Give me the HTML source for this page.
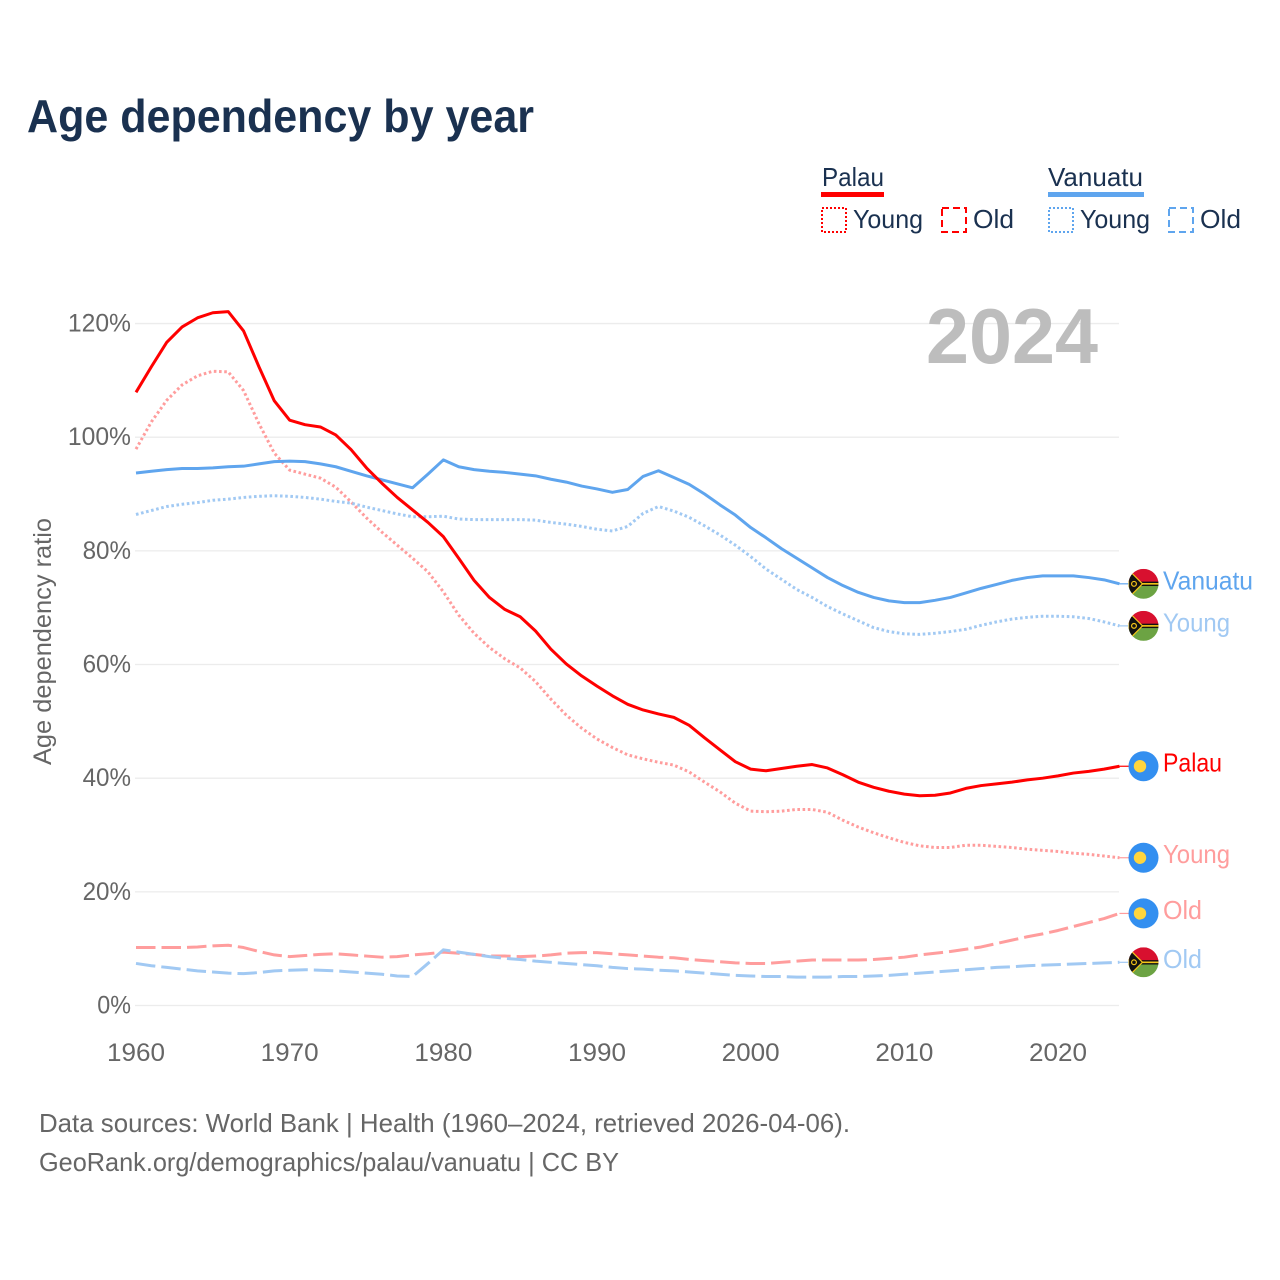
<!DOCTYPE html>
<html lang="en">
<head>
<meta charset="utf-8">
<title>Age dependency by year</title>
<style>
html,body{margin:0;padding:0;background:#fff}
svg{display:block}
text{font-family:"Liberation Sans",sans-serif}
</style>
</head>
<body>
<svg id="chart" xmlns="http://www.w3.org/2000/svg" width="1280" height="1280" viewBox="0 0 1280 1280">
<rect width="1280" height="1280" fill="#fff"/>
<text x="27" y="132" font-size="46" font-weight="700" fill="#1a3150" textLength="507" lengthAdjust="spacingAndGlyphs">Age dependency by year</text>

<g font-size="26" fill="#1a3150">
<text x="822" y="186" textLength="62" lengthAdjust="spacingAndGlyphs">Palau</text>
<rect x="821" y="192" width="63" height="5" fill="#ff0000"/>
<rect x="822" y="208" width="24" height="24" fill="none" stroke="#ff0000" stroke-width="2" stroke-dasharray="2 2"/>
<text x="853" y="228" textLength="70" lengthAdjust="spacingAndGlyphs">Young</text>
<rect x="942" y="208" width="24" height="24" fill="none" stroke="#ff0000" stroke-width="2" stroke-dasharray="7 4"/>
<text x="973" y="228" textLength="41" lengthAdjust="spacingAndGlyphs">Old</text>
<text x="1048" y="186" textLength="95" lengthAdjust="spacingAndGlyphs">Vanuatu</text>
<rect x="1048" y="192" width="96" height="5" fill="#5fa5ee"/>
<rect x="1049" y="208" width="24" height="24" fill="none" stroke="#5fa5ee" stroke-width="2" stroke-dasharray="2 2"/>
<text x="1080" y="228" textLength="70" lengthAdjust="spacingAndGlyphs">Young</text>
<rect x="1169" y="208" width="24" height="24" fill="none" stroke="#5fa5ee" stroke-width="2" stroke-dasharray="7 4"/>
<text x="1200" y="228" textLength="41" lengthAdjust="spacingAndGlyphs">Old</text>
</g>

<g id="grid"></g>
<text x="926" y="363" font-size="78" font-weight="700" fill="#bdbdbd" textLength="172" lengthAdjust="spacingAndGlyphs">2024</text>
<g id="ylabels"></g>
<g id="xlabels"></g>
<text transform="translate(51,641.5) rotate(-90)" text-anchor="middle" font-size="25" fill="#666" textLength="247" lengthAdjust="spacingAndGlyphs">Age dependency ratio</text>
<g id="series"></g>
<g id="ends"></g>

<text x="39" y="1132" font-size="26" fill="#666" textLength="811" lengthAdjust="spacingAndGlyphs">Data sources: World Bank | Health (1960–2024, retrieved 2026-04-06).</text>
<a><text x="39" y="1171" font-size="26" fill="#666" textLength="580" lengthAdjust="spacingAndGlyphs">GeoRank.org/demographics/palau/vanuatu | CC BY</text></a>
</svg>

<script>
const startYear = 1960;
const xTicks = [1960, 1970, 1980, 1990, 2000, 2010, 2020];
const yTicks = [0, 20, 40, 60, 80, 100, 120];

const palauTotal = [107.9,112.4,116.7,119.4,121.0,121.9,122.1,118.7,112.4,106.4,103.0,102.2,101.8,100.4,97.8,94.6,91.9,89.4,87.2,85.0,82.5,78.7,74.8,71.8,69.7,68.4,65.9,62.7,60.1,58.0,56.2,54.5,53.0,52.0,51.3,50.7,49.3,47.1,45.0,42.9,41.6,41.3,41.7,42.1,42.4,41.8,40.6,39.3,38.4,37.7,37.2,36.9,37.0,37.4,38.2,38.7,39.0,39.3,39.7,40.0,40.4,40.9,41.2,41.6,42.1];
const palauYoung = [97.9,102.7,106.5,109.2,110.8,111.6,111.5,108.2,102.4,97.2,94.2,93.5,92.8,91.2,88.6,85.8,83.3,81.0,78.7,76.3,72.8,68.7,65.5,63.0,61.0,59.4,57.0,53.9,51.1,48.8,46.9,45.4,44.1,43.4,42.8,42.3,41.1,39.3,37.6,35.6,34.2,34.1,34.2,34.5,34.5,34.0,32.6,31.4,30.4,29.5,28.7,28.1,27.8,27.8,28.2,28.2,28.0,27.8,27.5,27.3,27.1,26.8,26.6,26.3,26.0];
const palauOld = [10.2,10.2,10.2,10.2,10.3,10.5,10.6,10.2,9.5,8.9,8.6,8.8,9.0,9.1,8.9,8.7,8.5,8.6,8.9,9.1,9.4,9.2,9.0,8.7,8.7,8.6,8.7,8.9,9.2,9.3,9.3,9.1,8.9,8.7,8.5,8.4,8.1,7.9,7.7,7.5,7.4,7.4,7.6,7.8,8.0,8.0,8.0,8.0,8.1,8.3,8.5,8.9,9.2,9.5,9.9,10.3,10.9,11.5,12.1,12.6,13.2,13.9,14.6,15.3,16.2];
const vanuatuTotal = [93.7,94.0,94.3,94.5,94.5,94.6,94.8,94.9,95.3,95.7,95.8,95.7,95.3,94.8,94.0,93.2,92.5,91.8,91.1,93.5,96.0,94.8,94.3,94.0,93.8,93.5,93.2,92.6,92.1,91.4,90.9,90.3,90.8,93.1,94.1,92.9,91.7,90.0,88.1,86.3,84.1,82.3,80.4,78.7,77.0,75.3,73.9,72.7,71.8,71.2,70.9,70.9,71.3,71.8,72.6,73.4,74.1,74.8,75.3,75.6,75.6,75.6,75.3,74.9,74.2];
const vanuatuYoung = [86.4,87.1,87.8,88.2,88.5,88.9,89.1,89.4,89.6,89.7,89.6,89.4,89.1,88.7,88.4,87.7,87.1,86.5,86.0,86.0,86.1,85.6,85.5,85.5,85.5,85.5,85.4,85.0,84.7,84.3,83.8,83.5,84.3,86.6,87.8,87.0,85.9,84.4,82.8,81.0,79.0,76.8,75.0,73.2,71.8,70.2,68.9,67.7,66.5,65.8,65.4,65.3,65.5,65.8,66.2,66.9,67.5,68.0,68.3,68.5,68.5,68.4,68.1,67.5,66.8];
const vanuatuOld = [7.4,7.0,6.7,6.4,6.1,5.9,5.7,5.6,5.8,6.1,6.2,6.3,6.2,6.1,5.9,5.7,5.5,5.2,5.1,7.4,9.8,9.4,9.0,8.6,8.3,8.1,7.8,7.6,7.4,7.2,7.0,6.7,6.5,6.4,6.2,6.1,5.9,5.7,5.5,5.3,5.2,5.1,5.1,5.0,5.0,5.0,5.1,5.1,5.2,5.3,5.5,5.7,5.9,6.1,6.3,6.5,6.7,6.8,7.0,7.1,7.2,7.3,7.4,7.5,7.6];

const seriesNames = ['palau-old','vanuatu-old','palau-young','vanuatu-young','vanuatu-total','palau-total'];
const seriesValues = [palauOld, vanuatuOld, palauYoung, vanuatuYoung, vanuatuTotal, palauTotal];
const seriesColors = ['#ff9d9d','#a1c9f3','#ff9d9d','#a1c9f3','#5fa5ee','#ff0000'];
const seriesKinds = ['dash','dash','dot','dot','solid','solid'];
const seriesCountries = ['palau','vanuatu','palau','vanuatu','vanuatu','palau'];
const seriesLabels = ['Old','Old','Young','Young','Vanuatu','Palau'];

const NS = 'http://www.w3.org/2000/svg';
const xScale = year => 136 + (year - startYear) * 15.3667;
const yScale = value => 1005.5 - value * 5.683;
const labelWidths = {Old: 39, Young: 67, Vanuatu: 90, Palau: 59};

function make(tag, attrs, parent) {
  const el = document.createElementNS(NS, tag);
  for (const k in attrs) el.setAttribute(k, attrs[k]);
  parent.appendChild(el);
  return el;
}

const gridG = document.getElementById('grid');
const yG = document.getElementById('ylabels');
yTicks.forEach(t => {
  const line = make('line', {x1: 135, x2: 1119, y1: yScale(t), y2: yScale(t), stroke: '#ececec', 'stroke-width': 1.3}, gridG);
  
  
  const label = make('text', {x: 131, y: yScale(t) + 8, 'text-anchor': 'end', 'font-size': 25, fill: '#666', textLength: String(t).length * 14.7 + 19, lengthAdjust: 'spacingAndGlyphs'}, yG);
  
  
  label.textContent = t + '%';
});

const xG = document.getElementById('xlabels');
xTicks.forEach(t => {
  const label = make('text', {x: xScale(t), y: 1061, 'text-anchor': 'middle', 'font-size': 25, fill: '#666', textLength: 58, lengthAdjust: 'spacingAndGlyphs'}, xG);
  
  
  label.textContent = t;
});

const seriesG = document.getElementById('series');
const endsG = document.getElementById('ends');
const dashes = {solid: 'none', dot: '2.6 2.6', dash: '19.5 6'};

function drawVanuatuFlag(g, cx, cy, id) {
  const clip = make('clipPath', {id: id}, g);
  make('circle', {cx: cx, cy: cy, r: 15}, clip);
  const f = make('g', {'clip-path': 'url(#' + id + ')'}, g);
  make('rect', {x: cx - 15, y: cy - 15, width: 30, height: 15, fill: '#d8102f'}, f);
  make('rect', {x: cx - 15, y: cy, width: 30, height: 15, fill: '#6ca343'}, f);
  make('rect', {x: cx - 15, y: cy - 2.2, width: 30, height: 4.4, fill: '#111'}, f);
  make('rect', {x: cx - 5, y: cy - 0.8, width: 20, height: 1.6, fill: '#f5c518'}, f);
  make('path', {d: 'M' + (cx - 15) + ' ' + (cy - 14) + 'L' + (cx - 1) + ' ' + cy + 'L' + (cx - 15) + ' ' + (cy + 14) + 'Z', fill: '#111', stroke: '#f5c518', 'stroke-width': 1.2}, f);
  make('circle', {cx: cx - 9.5, cy: cy, r: 2.4, fill: 'none', stroke: '#f5c518', 'stroke-width': 1.2}, f);
}

function drawPalauFlag(g, cx, cy) {
  make('circle', {cx: cx, cy: cy, r: 15, fill: '#338ff0'}, g);
  make('circle', {cx: cx - 3.5, cy: cy, r: 6.2, fill: '#ffd53d'}, g);
}

seriesValues.forEach((vals, i) => {
  const d = vals.map((v, k) => (k ? 'L' : 'M') + xScale(startYear + k).toFixed(2) + ' ' + yScale(v).toFixed(2)).join('');
  const path = make('path', {d: d, fill: 'none', stroke: seriesColors[i], 'stroke-width': 3, 'stroke-linejoin': 'round', 'stroke-dasharray': dashes[seriesKinds[i]]}, seriesG);
  
  

  const last = vals[vals.length - 1];
  const ex = xScale(startYear + vals.length - 1);
  const ey = yScale(last);
  const conn = make('line', {x1: ex, x2: 1129, y1: ey, y2: ey, stroke: seriesColors[i], 'stroke-width': 1.2}, endsG);
  
  

  const flag = make('g', {}, endsG);
  
  
  if (seriesCountries[i] === 'vanuatu') drawVanuatuFlag(flag, 1143.5, ey, 'clip-' + i);
  else drawPalauFlag(flag, 1143.5, ey);

  const label = make('text', {x: 1163, y: ey + 5.5, 'font-size': 26, fill: seriesColors[i], textLength: labelWidths[seriesLabels[i]], lengthAdjust: 'spacingAndGlyphs'}, endsG);
  
  
  label.textContent = seriesLabels[i];
});
</script>
</body>
</html>
